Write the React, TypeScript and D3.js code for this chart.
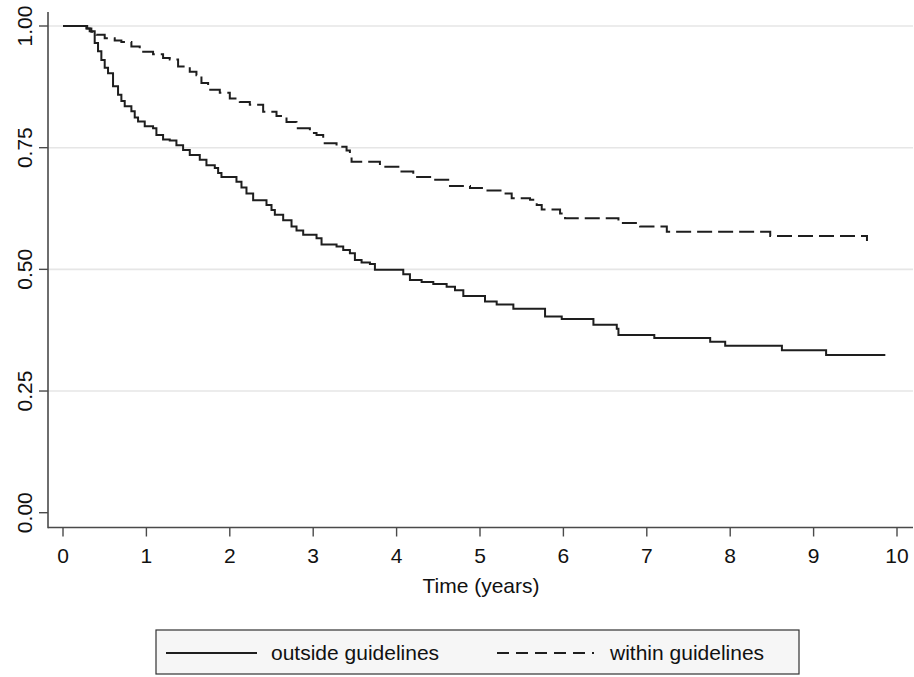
import React from "react";
import * as d3 from "d3";

// Kaplan-Meier step data (time in years, survival probability)
const outsideTime = [0, 0.28, 0.32, 0.38, 0.42, 0.46, 0.50, 0.54, 0.60, 0.66, 0.70, 0.74, 0.82, 0.86, 0.90, 0.98, 1.08, 1.12, 1.20, 1.28, 1.36, 1.44, 1.52, 1.64, 1.72, 1.82, 1.86, 1.90, 2.08, 2.14, 2.20, 2.28, 2.44, 2.50, 2.54, 2.64, 2.74, 2.80, 2.88, 3.04, 3.10, 3.28, 3.36, 3.44, 3.50, 3.58, 3.68, 3.74, 4.08, 4.16, 4.30, 4.44, 4.60, 4.70, 4.80, 5.06, 5.20, 5.40, 5.78, 5.98, 6.36, 6.64, 6.66, 7.09, 7.76, 7.94, 8.62, 9.15, 9.86];
const outsideSurv = [1, 0.995, 0.989, 0.965, 0.948, 0.930, 0.914, 0.903, 0.876, 0.859, 0.846, 0.835, 0.825, 0.812, 0.804, 0.794, 0.790, 0.776, 0.767, 0.765, 0.755, 0.745, 0.735, 0.725, 0.714, 0.708, 0.698, 0.690, 0.680, 0.668, 0.656, 0.642, 0.632, 0.622, 0.612, 0.601, 0.588, 0.580, 0.571, 0.564, 0.551, 0.547, 0.540, 0.533, 0.519, 0.514, 0.511, 0.499, 0.490, 0.478, 0.474, 0.470, 0.464, 0.457, 0.445, 0.434, 0.428, 0.419, 0.403, 0.398, 0.386, 0.378, 0.365, 0.359, 0.351, 0.343, 0.334, 0.324, 0.324];

const withinTime = [0, 0.29, 0.34, 0.40, 0.50, 0.62, 0.70, 0.82, 0.92, 1.08, 1.20, 1.28, 1.38, 1.52, 1.60, 1.66, 1.74, 1.88, 2.00, 2.12, 2.24, 2.40, 2.56, 2.68, 2.80, 2.96, 3.04, 3.12, 3.28, 3.40, 3.44, 3.46, 3.80, 4.04, 4.20, 4.44, 4.64, 4.88, 5.06, 5.28, 5.38, 5.60, 5.68, 5.74, 5.96, 6.02, 6.66, 6.92, 7.24, 8.48, 9.64];
const withinSurv = [1, 0.995, 0.988, 0.982, 0.975, 0.970, 0.967, 0.958, 0.947, 0.942, 0.934, 0.931, 0.917, 0.906, 0.899, 0.883, 0.869, 0.863, 0.851, 0.844, 0.838, 0.824, 0.815, 0.803, 0.790, 0.780, 0.776, 0.759, 0.752, 0.744, 0.733, 0.721, 0.711, 0.701, 0.690, 0.684, 0.671, 0.667, 0.662, 0.656, 0.646, 0.643, 0.632, 0.623, 0.615, 0.605, 0.595, 0.588, 0.577, 0.5685, 0.558];

const xTicks = [0, 1, 2, 3, 4, 5, 6, 7, 8, 9, 10];
const yTicks = [0, 0.25, 0.5, 0.75, 1];
const seriesNames = ["outside guidelines", "within guidelines"];
const xTitle = "Time (years)";

const W = 914;
const H = 677;
const FONT = "'Liberation Sans', Arial, Helvetica, sans-serif";

export default function App() {
  const x = d3.scaleLinear().domain([0, 10]).range([63, 897]);
  const y = d3.scaleLinear().domain([0, 1]).range([512.7, 26]);
  const axisLeft = 48;
  const axisBottom = 527.5;

  const line = d3
    .line<[number, number]>()
    .x((d) => x(d[0]))
    .y((d) => y(d[1]))
    .curve(d3.curveStepAfter);

  const outside: [number, number][] = outsideTime.map((t, i) => [t, outsideSurv[i]]);
  const within: [number, number][] = withinTime.map((t, i) => [t, withinSurv[i]]);

  const axisColor = "#4a4a4a";
  const lineColor = "#1e1e1e";
  const fs = 21;

  return (
    <svg
      width={W}
      height={H}
      style={{ position: "absolute", left: 0, top: 0, background: "#fff" }}
      fontFamily={FONT}
    >
      {/* gridlines */}
      {yTicks.slice(1).map((t) => (
        <line key={"g" + t} x1={axisLeft} x2={913} y1={y(t)} y2={y(t)} stroke="#e6e6e6" strokeWidth={1.6} />
      ))}
      {/* y axis */}
      <line x1={axisLeft} x2={axisLeft} y1={12} y2={axisBottom + 0.8} stroke={axisColor} strokeWidth={1.6} />
      {yTicks.map((t) => (
        <g key={"y" + t}>
          <line x1={axisLeft - 9} x2={axisLeft} y1={y(t)} y2={y(t)} stroke={axisColor} strokeWidth={1.4} />
          <text
            transform={`translate(32,${y(t)}) rotate(-90)`}
            textAnchor="middle"
            fontSize={fs}
            fill="#111"
          >
            {t.toFixed(2)}
          </text>
        </g>
      ))}
      {/* x axis */}
      <line x1={axisLeft} x2={913} y1={axisBottom} y2={axisBottom} stroke={axisColor} strokeWidth={1.6} />
      {xTicks.map((t) => (
        <g key={"x" + t}>
          <line x1={x(t)} x2={x(t)} y1={axisBottom} y2={axisBottom + 9} stroke={axisColor} strokeWidth={1.4} />
          <text x={x(t)} y={563} textAnchor="middle" fontSize={fs} fill="#111">
            {t}
          </text>
        </g>
      ))}
      <text x={481} y={593} textAnchor="middle" fontSize={fs} fill="#111">
        {xTitle}
      </text>

      {/* curves */}
      <path d={line(outside) || ""} fill="none" stroke={lineColor} strokeWidth={2} />
      <path d={line(within) || ""} fill="none" stroke={lineColor} strokeWidth={2} strokeDasharray="15,6" />

      {/* legend */}
      <rect x={156} y={630} width={643} height={44} fill="#f6f6f6" stroke="#333" strokeWidth={1.2} />
      <line x1={166} x2={257} y1={653} y2={653} stroke={lineColor} strokeWidth={2} />
      <text x={271} y={660} fontSize={fs} fill="#111">
        {seriesNames[0]}
      </text>
      <line x1={497} x2={594} y1={653} y2={653} stroke={lineColor} strokeWidth={2} strokeDasharray="12,7" />
      <text x={610} y={660} fontSize={fs} fill="#111">
        {seriesNames[1]}
      </text>
    </svg>
  );
}
